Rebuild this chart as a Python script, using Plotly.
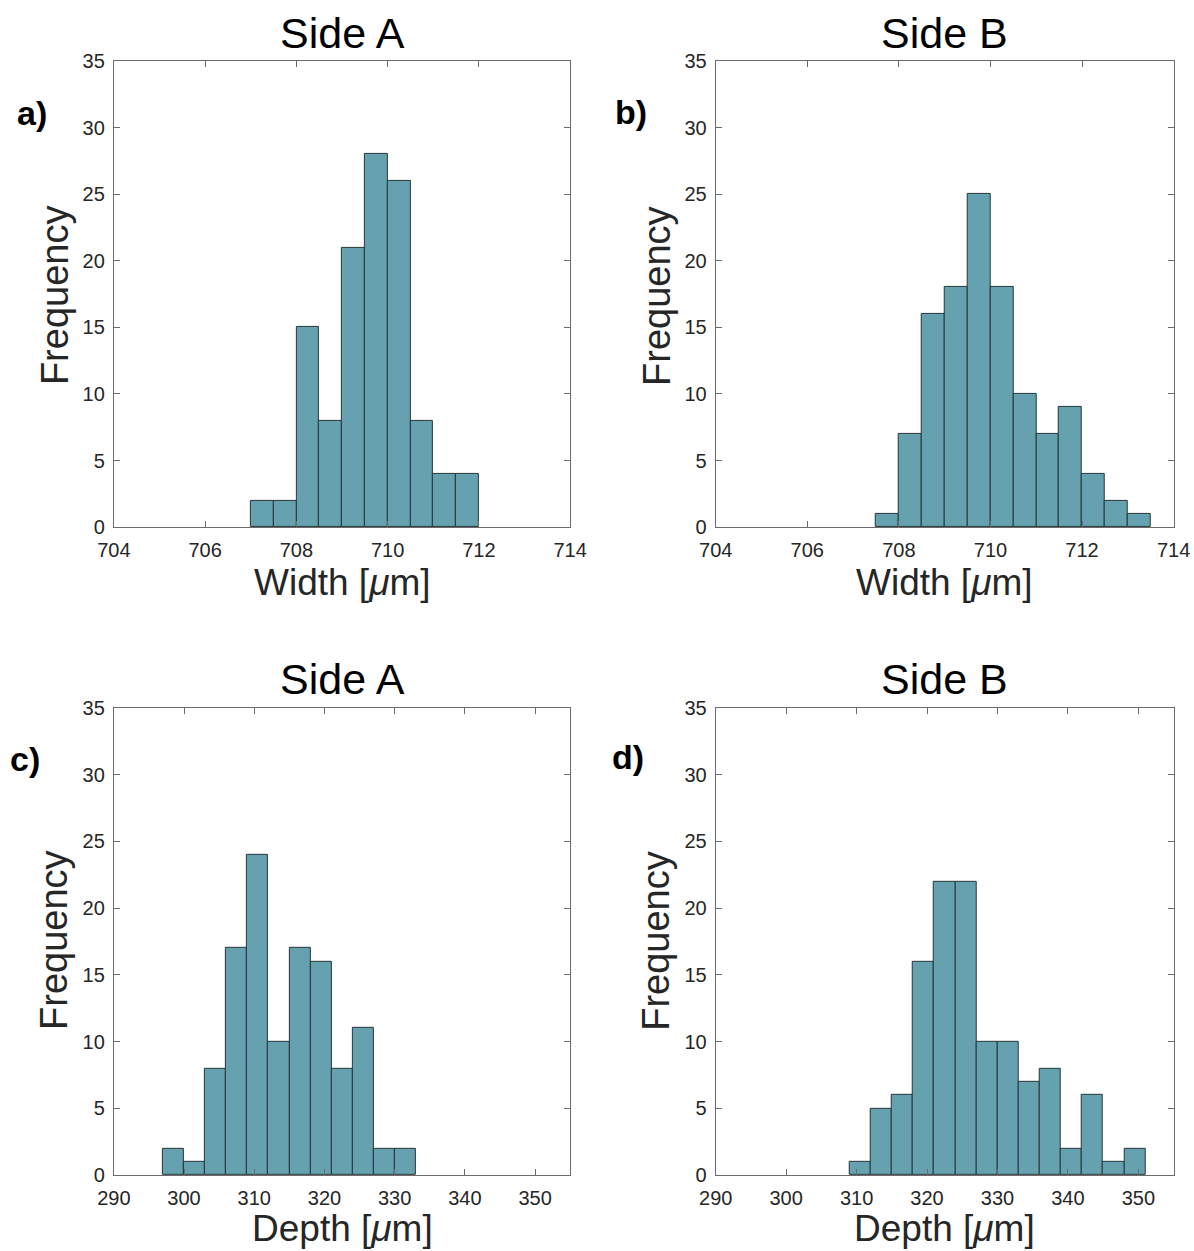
import plotly.graph_objects as go

# ---- data ----
width_a_edges_start = 707.0
width_a_bin = 0.5
width_a_counts = [2, 2, 15, 8, 21, 28, 26, 8, 4, 4]

width_b_edges_start = 707.5
width_b_bin = 0.5
width_b_counts = [1, 7, 16, 18, 25, 18, 10, 7, 9, 4, 2, 1]

depth_a_edges_start = 297.0
depth_a_bin = 3.0
depth_a_counts = [2, 1, 8, 17, 24, 10, 17, 16, 8, 11, 2, 2]

depth_b_edges_start = 309.0
depth_b_bin = 3.0
depth_b_counts = [1, 5, 6, 16, 22, 22, 10, 10, 7, 8, 2, 6, 1, 2]

titles = ["Side A", "Side B", "Side A", "Side B"]
panel_labels = ["a)", "b)", "c)", "d)"]
xlabels = ["Width [<i>μ</i>m]", "Width [<i>μ</i>m]", "Depth [<i>μ</i>m]", "Depth [<i>μ</i>m]"]
width_ticks = [704, 706, 708, 710, 712, 714]
depth_ticks = [290, 300, 310, 320, 330, 340, 350]
y_ticks = [0, 5, 10, 15, 20, 25, 30, 35]

W, H = 1194, 1251
FONT = "Liberation Sans, Arial, Helvetica, sans-serif"
FACE = "#66A1AF"
EDGE = "#253639"
AXC = "#6b6b6b"

panels = [
    (width_a_edges_start, width_a_bin, width_a_counts, [704, 714], width_ticks),
    (width_b_edges_start, width_b_bin, width_b_counts, [704, 714], width_ticks),
    (depth_a_edges_start, depth_a_bin, depth_a_counts, [290, 355], depth_ticks),
    (depth_b_edges_start, depth_b_bin, depth_b_counts, [290, 355], depth_ticks),
]

# layout positions in figure pixels (left, right, top, bottom)
boxes = [
    (99.7, 569.4, 50.8, 525.4),
    (719.2, 1190.5, 50.8, 525.4),
    (99.7, 569.4, 709.3, 1185.0),
    (719.2, 1190.5, 709.3, 1185.0),
]
title_y = [22.4, 22.4, 679.9, 679.9]
xlabel_y = [581.3, 581.3, 1239.8, 1239.8]
ylabel_y = [289.6, 289.6, 946.0, 946.0]
ylabel_dx = 61
plabel_xy = [(15.6, 103.7), (632.5, 103.2), (7.9, 761.2), (628.9, 759.1)]

fig = go.Figure()
layout = dict(
    width=W, height=H, margin=dict(l=0, r=0, t=0, b=0, pad=0),
    paper_bgcolor="white", plot_bgcolor="white", showlegend=False,
    font=dict(family=FONT, color="#262626"),
)
annotations = []
for i, ((start, bw, counts, xr, xt), (l, r, t, b)) in enumerate(zip(panels, boxes)):
    n = i + 1
    xa = "x" if n == 1 else f"x{n}"
    ya = "y" if n == 1 else f"y{n}"
    centers = [start + bw * (k + 0.5) for k in range(len(counts))]
    fig.add_trace(go.Bar(
        x=centers, y=counts, width=[bw] * len(counts),
        marker=dict(color=FACE, line=dict(color=EDGE, width=1)),
        xaxis=xa, yaxis=ya, hoverinfo="x+y",
    ))
    xd = [l / W, r / W]
    yd = [1 - b / H, 1 - t / H]
    axkey = "xaxis" if n == 1 else f"xaxis{n}"
    aykey = "yaxis" if n == 1 else f"yaxis{n}"
    layout[axkey] = dict(
        domain=xd, range=xr, anchor=ya, tickvals=xt, ticks="inside", ticklen=6,
        tickcolor=AXC, showline=True, linecolor=AXC, linewidth=1, mirror="ticks",
        showgrid=False, zeroline=False, ticklabelstandoff=5,
        tickfont=dict(size=20, family=FONT, color="#262626"),
    )
    layout[aykey] = dict(
        domain=yd, range=[0, 35], anchor=xa, tickvals=y_ticks, ticks="inside", ticklen=6,
        tickcolor=AXC, showline=True, linecolor=AXC, linewidth=1, mirror="ticks",
        showgrid=False, zeroline=False, ticklabelstandoff=4,
        tickfont=dict(size=20, family=FONT, color="#262626"),
    )
    cx = (l + r) / 2 / W
    annotations.append(dict(text=titles[i], x=cx, y=1 - title_y[i] / H, xref="paper", yref="paper",
                            showarrow=False, font=dict(size=43, family=FONT, color="black"),
                            xanchor="center", yanchor="middle"))
    annotations.append(dict(text=xlabels[i], x=cx, y=1 - xlabel_y[i] / H, xref="paper", yref="paper",
                            showarrow=False, font=dict(size=37, family=FONT, color="#262626"),
                            xanchor="center", yanchor="middle"))
    annotations.append(dict(text="Frequency", x=(l - ylabel_dx) / W, y=1 - ylabel_y[i] / H,
                            xref="paper", yref="paper",
                            showarrow=False, textangle=-90, font=dict(size=38, family=FONT, color="#262626"),
                            xanchor="center", yanchor="middle"))
    px, py = plabel_xy[i]
    annotations.append(dict(text="<b>" + panel_labels[i] + "</b>", x=px / W, y=1 - py / H,
                            xref="paper", yref="paper", showarrow=False,
                            font=dict(size=34, family=FONT, color="black"),
                            xanchor="center", yanchor="middle"))

layout["annotations"] = annotations
layout["bargap"] = 0
fig.update_layout(**layout)
fig.write_html("out.html")
